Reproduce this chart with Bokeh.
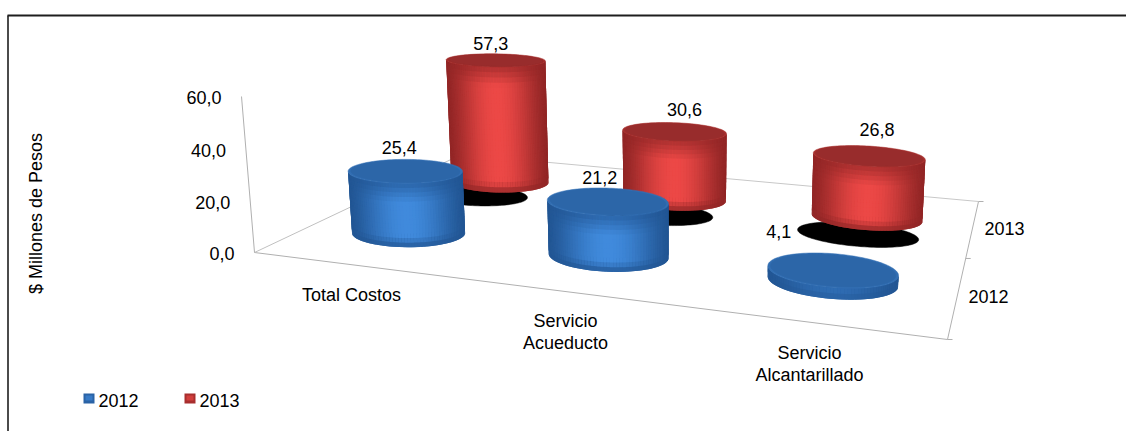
import numpy as np
from bokeh.plotting import figure
from bokeh.models import Range1d
from bokeh.core.properties import value as bv
from bokeh.embed import file_html
from bokeh.resources import INLINE

categories = ["Total Costos", "Servicio\nAcueducto", "Servicio\nAlcantarillado"]
series_names = ["2012", "2013"]
values_2012 = [25.4, 21.2, 4.1]
values_2013 = [57.3, 30.6, 26.8]
value_ticks = [0, 20, 40, 60]
tick_labels = ["0,0", "20,0", "40,0", "60,0"]
axis_title = "$ Millones de Pesos"

# layout
W, H = 1126, 431
FONT = "Liberation Sans"
FLOOR = {"fl": (254, 252), "fr": (947, 339), "br": (978, 201), "bl": (461, 154)}
AXIS_TOP = (241, 96)
V_X = 680.0
RU, RV = 0.272, 0.22
U_SHIFT = -0.012
SHADOW_DV, SHADOW_RU, SHADOW_RV = 0.30, 0.285, 0.19
LABEL_OFFSETS = {(0, 1): (-5, -10), (1, 1): (10, -13), (2, 1): (8, -16),
                 (0, 0): (-6, -12), (1, 0): (-8, -10), (2, 0): (-54, -21)}
TICK_GAP = 20

def homography(src, dst):
    A, b = [], []
    for (u, v), (x, y) in zip(src, dst):
        A.append([u, v, 1, 0, 0, 0, -u*x, -v*x]); b.append(x)
        A.append([0, 0, 0, u, v, 1, -u*y, -v*y]); b.append(y)
    s = np.linalg.solve(np.array(A, float), np.array(b, float))
    return np.array([[s[0], s[1], s[2]], [s[3], s[4], s[5]], [s[6], s[7], 1.0]])

HM = homography([(0, 0), (3, 0), (3, 2), (0, 2)], [FLOOR["fl"], FLOOR["fr"], FLOOR["br"], FLOOR["bl"]])
d0 = HM @ np.array([0, 0, 1.0])
s60 = (FLOOR["fl"][0] - AXIS_TOP[0]) * d0[2] / (V_X - AXIS_TOP[0])
vy = (FLOOR["fl"][1]*d0[2] - AXIS_TOP[1]*(d0[2]-s60)) / s60
CW = -(s60/60.0) * np.array([V_X, vy, 1.0])

def proj(u, v, w=0.0):
    u, v, w = np.asarray(u, float), np.asarray(v, float), np.asarray(w, float)
    X = HM[0, 0]*u + HM[0, 1]*v + HM[0, 2] + CW[0]*w
    Y = HM[1, 0]*u + HM[1, 1]*v + HM[1, 2] + CW[1]*w
    Z = HM[2, 0]*u + HM[2, 1]*v + HM[2, 2] + CW[2]*w
    return X/Z, H - Y/Z

def sy(y):
    return H - y

p = figure(width=W, height=H, x_range=Range1d(0, W), y_range=Range1d(0, H),
           output_backend="svg", toolbar_location=None, min_border=0,
           background_fill_color="white", border_fill_color="white", outline_line_color=None)
p.axis.visible = False
p.grid.visible = False

# frame
FR = "#1e1e1e"
p.line([7.5, 7.5], [sy(431), sy(15)], line_color=FR, line_width=1.6)
p.line([7, 1126], [sy(15), sy(15)], line_color=FR, line_width=2)

# floor and axes
AX = "#b0b0b0"
for a, b, col in [((0, 0), (3, 0), AX), ((3, 0), (3, 2), AX), ((3, 2), (0, 2), "#c8c8c8"), ((0, 2), (0, 0), "#c0c0c0")]:
    x0, y0 = proj(*a); x1, y1 = proj(*b)
    p.line([x0, x1], [y0, y1], line_color=col, line_width=1)
x0, y0 = proj(0, 0, 0); x1, y1 = proj(0, 0, value_ticks[-1])
p.line([x0, x1], [y0, y1], line_color=AX, line_width=1)
for v in [0, 1, 2]:
    x0, y0 = proj(3, v)
    p.line([x0, x0 + 5], [y0, y0], line_color=AX, line_width=1)

def mix(c1, c2, t):
    t = float(np.clip(t, 0, 1))
    return "#%02x%02x%02x" % tuple(int(round(a + (b - a) * t)) for a, b in zip(c1, c2))

PAL = {0: {"edge": (34, 86, 148), "mid": (64, 138, 220), "top": (44, 102, 168), "rim": (50, 110, 178)},
       1: {"edge": (146, 38, 38), "mid": (236, 72, 70), "top": (152, 44, 44), "rim": (166, 48, 46)}}

ANG = np.linspace(0, 2*np.pi, 121)[:-1]

def cylinder(i, j, val):
    uc, vc = i + 0.5 + U_SHIFT, j + 0.5
    xs, ys, cs = [], [], []
    cu, cv = uc + RU*np.cos(ANG), vc + RV*np.sin(ANG)
    if j == 1:
        sxx, syy = proj(uc + SHADOW_RU*np.cos(ANG), vc - SHADOW_DV + SHADOW_RV*np.sin(ANG), 0)
        p.patch(sxx, syy, fill_color="black", line_color="black", line_width=0.5)
    bx, by = proj(cu, cv, 0)
    tx, ty = proj(cu, cv, val)
    pal = PAL[j]
    li, ri = int(np.argmin(bx)), int(np.argmax(bx))
    n = len(ANG)
    step = -1 if by[(li - 1) % n] < by[(li + 1) % n] else 1
    idx = [li]
    while idx[-1] != ri:
        idx.append((idx[-1] + step) % n)
    xmin, xmax = bx.min(), bx.max()
    height_px = float(np.max(ty) - np.max(by))
    NH = max(2, min(24, int(height_px / 4)))
    # painter's order: each cell reaches into its right and upper neighbours, which then cover it
    for c in range(len(idx) - 1):
        a, b = idx[c], idx[min(c + 2, len(idx) - 1)]
        t = (0.5*(bx[idx[c]]+bx[idx[c+1]]) - xmin)/(xmax - xmin)
        shade = np.sin(np.pi*np.clip(t, 0, 1))**1.4
        for h in range(NH):
            f0, f1 = h/NH, min(1.0, (h+2)/NH)
            fm = (h+0.5)/NH
            low_px = 9.0/max(height_px, 9.0)
            top_px = 18.0/max(height_px, 18.0)
            g = min(1.0, fm/low_px)*0.95+0.05
            g *= min(1.0, (1-fm)/top_px*0.7 + 0.3)
            col = mix(pal["edge"], pal["mid"], shade*g)
            xs.append([bx[a]+(tx[a]-bx[a])*f0, bx[b]+(tx[b]-bx[b])*f0, bx[b]+(tx[b]-bx[b])*f1, bx[a]+(tx[a]-bx[a])*f1])
            ys.append([by[a]+(ty[a]-by[a])*f0, by[b]+(ty[b]-by[b])*f0, by[b]+(ty[b]-by[b])*f1, by[a]+(ty[a]-by[a])*f1])
            cs.append(col)
    p.patches(xs, ys, fill_color=cs, line_color=None)
    p.patch(tx, ty, fill_color=pal["rim"], line_color=pal["rim"], line_width=0.5)
    ix, iy = proj(uc + 0.96*RU*np.cos(ANG), vc + 0.92*RV*np.sin(ANG), val)
    p.patch(ix, iy, fill_color=pal["top"], line_color=pal["top"], line_width=0.5)
    lab = f"{val:.1f}".replace(".", ",")
    ox, oy = LABEL_OFFSETS[(i, j)]
    return float(tx.mean()) + ox, float(ty.max()) - oy, lab

labels = []
for i, val in enumerate(values_2013):
    labels.append(cylinder(i, 1, val))
for i, val in enumerate(values_2012):
    labels.append(cylinder(i, 0, val))

def txt(x, y, s, size=18, align="center", baseline="middle", angle=0, color="#000000"):
    p.text([x], [y], text=[s], text_font=bv(FONT), text_font_size=f"{size}px", text_align=align,
           text_baseline=baseline, angle=angle, text_color=color)

for x, y, s in labels:
    txt(x, y, s)

for t, lab in zip(value_ticks, tick_labels):
    x0, y0 = proj(0, 0, t)
    txt(x0 - TICK_GAP, y0 - 1, lab, align="right")

txt(35, sy(213), axis_title, angle=np.pi/2)

cat_pos = [(351, 294), (565, 331), (809, 363)]
for (x, y), c in zip(cat_pos, categories):
    lines = c.split("\n")
    for k, l in enumerate(lines):
        txt(x, sy(y + (k - (len(lines)-1)/2)*22), l)

txt(1004, sy(228), series_names[1])
txt(988, sy(296), series_names[0])

# legend
for x, nm, j in [(83, series_names[0], 0), (184, series_names[1], 1)]:
    pal = PAL[j]
    p.quad(left=[x], right=[x + 11], bottom=[sy(403)], top=[sy(393)], fill_color=mix(pal["edge"], pal["mid"], 0.25), line_color=None)
    p.quad(left=[x + 2], right=[x + 9], bottom=[sy(400)], top=[sy(395)], fill_color=mix(pal["edge"], pal["mid"], 0.7), line_color=None)
    txt(x + 15, sy(400), nm, align="left")

open("out.html", "w").write(file_html(p, INLINE))
